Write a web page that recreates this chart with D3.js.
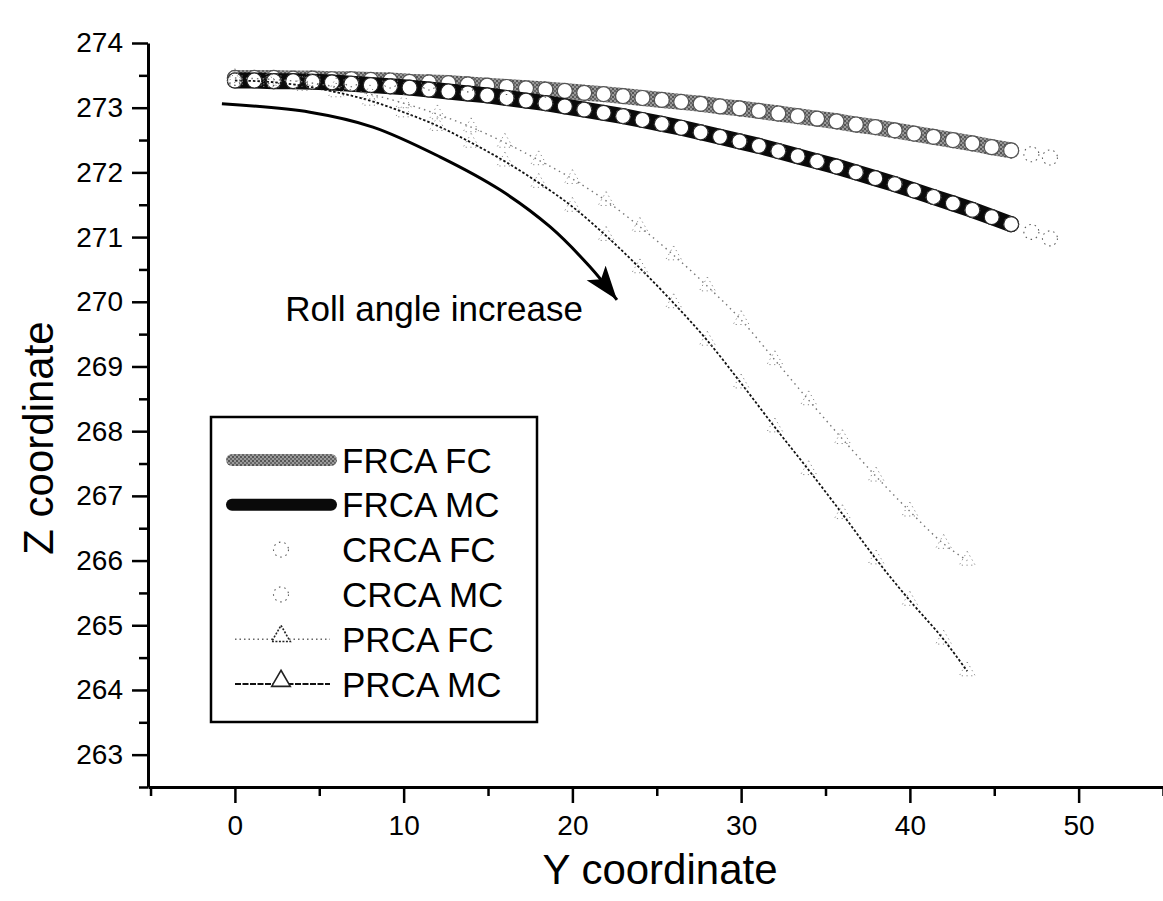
<!DOCTYPE html>
<html><head><meta charset="utf-8">
<script src="https://cdn.jsdelivr.net/npm/d3@7"></script>
<style>html,body{margin:0;padding:0;background:#fff;} svg{display:block;font-family:"Liberation Sans",Arial,sans-serif;}</style>
</head><body><svg id="chart" width="1163" height="901"></svg>
<script>
// ---- data ----
const frcaX = [0,1.15,2.3,3.45,4.6,5.75,6.9,8.05,9.2,10.35,11.5,12.65,13.8,14.95,16.1,17.25,18.4,19.55,20.7,21.85,23.0,24.15,25.3,26.45,27.6,28.75,29.9,31.05,32.2,33.35,34.5,35.65,36.8,37.95,39.1,40.25,41.4,42.55,43.7,44.85,46.0];
const frcaFC = [273.46,273.46,273.46,273.45,273.45,273.44,273.44,273.43,273.42,273.40,273.39,273.38,273.36,273.34,273.32,273.30,273.28,273.26,273.23,273.21,273.18,273.15,273.12,273.09,273.06,273.02,272.99,272.95,272.91,272.87,272.83,272.79,272.74,272.70,272.65,272.60,272.55,272.50,272.45,272.39,272.34];
const frcaMC = [273.42,273.42,273.41,273.41,273.40,273.39,273.37,273.35,273.33,273.31,273.28,273.25,273.22,273.19,273.15,273.11,273.07,273.02,272.97,272.92,272.87,272.81,272.75,272.69,272.62,272.55,272.48,272.41,272.33,272.25,272.17,272.09,272.00,271.91,271.82,271.72,271.62,271.52,271.42,271.31,271.20];
const crcaX = [0,2.3,4.6,6.9,9.2,11.5,13.8,16.1,18.4,20.7,23.0,25.3,27.6,29.9,32.2,34.5,36.8,39.1,41.4,43.7,46.0,47.2,48.3];
const crcaFC = [273.46,273.46,273.45,273.44,273.42,273.39,273.36,273.32,273.28,273.23,273.18,273.12,273.06,272.99,272.91,272.83,272.74,272.65,272.55,272.45,272.34,272.28,272.23];
const crcaMC = [273.42,273.41,273.40,273.37,273.33,273.28,273.22,273.15,273.07,272.97,272.87,272.75,272.62,272.48,272.33,272.17,272.00,271.82,271.62,271.42,271.20,271.08,270.98];
const prcaX = [0,2,4,6,8,10,12,14,16,18,20,22,24,26,28,30,32,34,36,38,40,42,43.4];
const prcaFC = [273.46,273.44,273.40,273.32,273.21,273.07,272.90,272.70,272.46,272.19,271.90,271.56,271.16,270.72,270.24,269.72,269.10,268.48,267.88,267.30,266.76,266.26,266.00];
const prcaMC = [273.42,273.40,273.34,273.24,273.11,272.93,272.72,272.46,272.17,271.84,271.47,271.02,270.52,269.98,269.40,268.74,268.06,267.40,266.72,266.02,265.38,264.78,264.29];
const seriesNames = ["FRCA FC","FRCA MC","CRCA FC","CRCA MC","PRCA FC","PRCA MC"];
const xMajorTicks = [0,10,20,30,40,50];
const xMinorTicks = [-5,5,15,25,35,45,55];
const yMajorTicks = [263,264,265,266,267,268,269,270,271,272,273,274];
const yMinorTicks = [262.5,263.5,264.5,265.5,266.5,267.5,268.5,269.5,270.5,271.5,272.5,273.5];
const arrowX = [-0.77,4.45,8.18,12.15,15.71,18.67,21.04,22.64];
const arrowZ = [273.06,272.93,272.70,272.24,271.73,271.16,270.54,270.03];
const annotationText = "Roll angle increase";
const xTitle = "Y coordinate", yTitle = "Z coordinate";

// ---- drawing ----
const svg = d3.select("#chart");
const x = d3.scaleLinear().domain([-5.15,55]).range([148,1163]);
const y = d3.scaleLinear().domain([262.5,274]).range([787,43]);
const zip = (xs, ys) => xs.map((v,i)=>[v, ys[i]]);
const line = d3.line().x(d=>x(d[0])).y(d=>y(d[1]));

// mottled grey pattern for the FC band
const defs = svg.append("defs");
const pat = defs.append("pattern").attr("id","mottle").attr("patternUnits","userSpaceOnUse").attr("width",4).attr("height",4);
pat.append("rect").attr("width",4).attr("height",4).attr("fill","#9a9a9a");
pat.append("rect").attr("width",2).attr("height",2).attr("fill","#555");
pat.append("rect").attr("x",2).attr("y",2).attr("width",2).attr("height",2).attr("fill","#666");

// axes
const gx = svg.append("g").attr("transform","translate(0,787)");
gx.call(d3.axisBottom(x).tickValues(xMajorTicks).tickSize(16).tickSizeOuter(0).tickPadding(12));
const gxm = svg.append("g").attr("transform","translate(0,787)");
gxm.call(d3.axisBottom(x).tickValues(xMinorTicks).tickSize(9).tickSizeOuter(0).tickFormat(""));
const gy = svg.append("g").attr("transform","translate(148,0)");
gy.call(d3.axisLeft(y).tickValues(yMajorTicks).tickSize(16).tickSizeOuter(0).tickPadding(9));
const gym = svg.append("g").attr("transform","translate(148,0)");
gym.call(d3.axisLeft(y).tickValues(yMinorTicks).tickSize(9).tickSizeOuter(0).tickFormat(""));
svg.selectAll(".domain").attr("stroke","#000").attr("stroke-width",3);
svg.selectAll(".tick line").attr("stroke","#000").attr("stroke-width",2.5);
svg.selectAll(".tick text").attr("font-size",28).attr("font-family","'Liberation Sans',Arial,sans-serif").attr("fill","#000");
gxm.select(".domain").remove(); gym.select(".domain").remove();

svg.append("text").attr("x",660).attr("y",884).attr("text-anchor","middle")
  .attr("font-size",42).text(xTitle);
svg.append("text").attr("transform","translate(53,438) rotate(-90)").attr("text-anchor","middle")
  .attr("font-size",42).text(yTitle);

// FRCA bands
function band(data, col, outline){
  const g = svg.append("g");
  g.append("path").datum(data).attr("d",line).attr("fill","none")
    .attr("stroke",col).attr("stroke-width",16).attr("stroke-linecap","round");
  g.selectAll("circle").data(data).join("circle")
    .attr("cx",d=>x(d[0])).attr("cy",d=>y(d[1])).attr("r",7.5)
    .attr("fill","#fff").attr("stroke",outline).attr("stroke-width",1.2);
}
band(zip(frcaX,frcaFC),"url(#mottle)","#555");
band(zip(frcaX,frcaMC),"#0a0a0a","#222");

// CRCA sparse dotted circles
function dottedCircles(data){
  svg.append("g").selectAll("circle").data(data).join("circle")
    .attr("cx",d=>x(d[0])).attr("cy",d=>y(d[1])).attr("r",7.5)
    .attr("fill","none").attr("stroke","#555").attr("stroke-width",1.1).attr("stroke-dasharray","1.5,4");
}
dottedCircles(zip(crcaX,crcaFC));
dottedCircles(zip(crcaX,crcaMC));

// PRCA dotted lines with triangles
const tri = d3.symbol().type(d3.symbolTriangle).size(110);
function prca(data, col, dash, w){
  const g = svg.append("g");
  g.append("path").datum(data).attr("d",line.curve(d3.curveMonotoneX)).attr("fill","none")
    .attr("stroke",col).attr("stroke-width",w).attr("stroke-dasharray",dash);
  g.selectAll("path.t").data(data).join("path").attr("class","t")
    .attr("transform",d=>`translate(${x(d[0])},${y(d[1])})`).attr("d",tri)
    .attr("fill","none").attr("stroke","#888").attr("stroke-width",1).attr("stroke-dasharray","1.2,3.5");
}
prca(zip(prcaX,prcaFC),"#777","1.5,4",1.4);
prca(zip(prcaX,prcaMC),"#111","2.5,2",1.8);

// annotation arrow
defs.append("marker").attr("id","ah").attr("markerUnits","userSpaceOnUse")
  .attr("markerWidth",40).attr("markerHeight",30).attr("refX",34).attr("refY",12)
  .attr("orient","auto").append("path").attr("d","M0,0 L34,12 L0,24 L8,12 Z").attr("fill","#000");
svg.append("path").datum(zip(arrowX,arrowZ))
  .attr("d",d3.line().x(d=>x(d[0])).y(d=>y(d[1])).curve(d3.curveCatmullRom))
  .attr("fill","none").attr("stroke","#000").attr("stroke-width",3).attr("marker-end","url(#ah)");
svg.append("text").attr("x",583).attr("y",321).attr("text-anchor","end").attr("font-size",35).text(annotationText);

// legend
const lg = svg.append("g");
lg.append("rect").attr("x",211).attr("y",417).attr("width",326).attr("height",305)
  .attr("fill","#fff").attr("stroke","#000").attr("stroke-width",2.5);
const rowY = d3.scaleLinear().domain([0,5]).range([460,684]);
seriesNames.forEach((nm,i)=>{
  const cy = rowY(i);
  if(i<2){
    lg.append("line").attr("x1",232).attr("x2",331).attr("y1",cy).attr("y2",cy)
      .attr("stroke",i===0?"url(#mottle)":"#0a0a0a").attr("stroke-width",12).attr("stroke-linecap","round");
  } else if(i<4){
    lg.append("circle").attr("cx",281).attr("cy",cy).attr("r",7.5).attr("fill","none")
      .attr("stroke","#555").attr("stroke-width",1.1).attr("stroke-dasharray","1.5,4");
  } else {
    lg.append("line").attr("x1",235).attr("x2",330).attr("y1",cy).attr("y2",cy)
      .attr("stroke",i===4?"#666":"#111").attr("stroke-width",i===4?1.4:1.8).attr("stroke-dasharray",i===4?"1.5,3":"6,1.5");
    lg.append("path").attr("transform",`translate(281,${cy-3})`).attr("d",d3.symbol().type(d3.symbolTriangle).size(150))
      .attr("fill","#fff").attr("stroke","#222").attr("stroke-width",1.6).attr("stroke-dasharray",i===4?"2,1.5":null);
  }
  lg.append("text").attr("x",342).attr("y",cy+12.5).attr("font-size",35).text(nm);
});
</script></body></html>
